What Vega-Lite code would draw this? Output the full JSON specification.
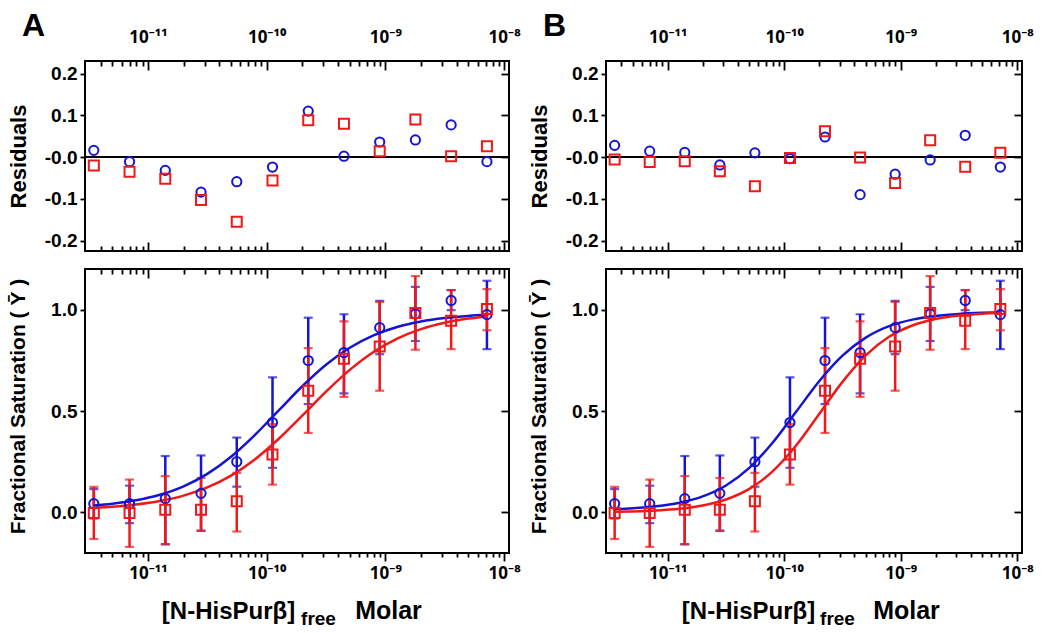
{
  "$schema": "https://vega.github.io/schema/vega-lite/v6.json",
  "background": "white",
  "padding": {"left": 5, "top": 9, "right": 5, "bottom": 3},
  "config": {
    "font": "Liberation Sans",
    "view": {"stroke": "black", "strokeWidth": 2},
    "axis": {"grid": false, "domain": false, "labelFont": "Liberation Sans", "labelFontWeight": "bold", "labelColor": "black", "titleFont": "Liberation Sans", "titleFontWeight": "bold", "titleColor": "black", "tickColor": "black", "tickWidth": 1.8}
  },
  "datasets": {
    "pts": [
      {"x": 3.5e-12, "s": "b", "y": 0.043, "lo": -0.03, "hi": 0.115, "ra": 0.016, "rb": 0.028},
      {"x": 7e-12, "s": "b", "y": 0.043, "lo": -0.053, "hi": 0.132, "ra": -0.011, "rb": 0.014},
      {"x": 1.4e-11, "s": "b", "y": 0.068, "lo": -0.157, "hi": 0.278, "ra": -0.032, "rb": 0.011},
      {"x": 2.8e-11, "s": "b", "y": 0.094, "lo": -0.09, "hi": 0.281, "ra": -0.084, "rb": -0.019},
      {"x": 5.6e-11, "s": "b", "y": 0.25, "lo": 0.127, "hi": 0.369, "ra": -0.059, "rb": 0.01},
      {"x": 1.12e-10, "s": "b", "y": 0.443, "lo": 0.22, "hi": 0.666, "ra": -0.024, "rb": -0.004},
      {"x": 2.24e-10, "s": "b", "y": 0.749, "lo": 0.534, "hi": 0.96, "ra": 0.11, "rb": 0.048},
      {"x": 4.48e-10, "s": "b", "y": 0.788, "lo": 0.587, "hi": 0.977, "ra": 0.002, "rb": -0.09},
      {"x": 8.96e-10, "s": "b", "y": 0.911, "lo": 0.78, "hi": 1.043, "ra": 0.036, "rb": -0.041},
      {"x": 1.79e-9, "s": "b", "y": 0.979, "lo": 0.845, "hi": 1.112, "ra": 0.041, "rb": -0.007},
      {"x": 3.58e-9, "s": "b", "y": 1.045, "lo": 0.997, "hi": 1.096, "ra": 0.077, "rb": 0.052},
      {"x": 7.17e-9, "s": "b", "y": 0.975, "lo": 0.805, "hi": 1.142, "ra": -0.011, "rb": -0.024},
      {"x": 3.5e-12, "s": "r", "y": -0.003, "lo": -0.131, "hi": 0.126, "ra": -0.02, "rb": -0.006},
      {"x": 7e-12, "s": "r", "y": -0.003, "lo": -0.17, "hi": 0.162, "ra": -0.035, "rb": -0.012},
      {"x": 1.4e-11, "s": "r", "y": 0.013, "lo": -0.157, "hi": 0.179, "ra": -0.052, "rb": -0.01},
      {"x": 2.8e-11, "s": "r", "y": 0.013, "lo": -0.091, "hi": 0.17, "ra": -0.103, "rb": -0.034},
      {"x": 5.6e-11, "s": "r", "y": 0.055, "lo": -0.094, "hi": 0.195, "ra": -0.155, "rb": -0.07},
      {"x": 1.12e-10, "s": "r", "y": 0.286, "lo": 0.137, "hi": 0.435, "ra": -0.056, "rb": -0.002},
      {"x": 2.24e-10, "s": "r", "y": 0.6, "lo": 0.392, "hi": 0.81, "ra": 0.088, "rb": 0.062},
      {"x": 4.48e-10, "s": "r", "y": 0.757, "lo": 0.57, "hi": 0.942, "ra": 0.08, "rb": -0.001},
      {"x": 8.96e-10, "s": "r", "y": 0.818, "lo": 0.6, "hi": 1.038, "ra": 0.014, "rb": -0.062},
      {"x": 1.79e-9, "s": "r", "y": 0.983, "lo": 0.802, "hi": 1.165, "ra": 0.09, "rb": 0.04},
      {"x": 3.58e-9, "s": "r", "y": 0.945, "lo": 0.805, "hi": 1.096, "ra": 0.002, "rb": -0.023},
      {"x": 7.17e-9, "s": "r", "y": 1.003, "lo": 0.898, "hi": 1.101, "ra": 0.026, "rb": 0.01}
    ],
    "fit": [
      {"x": 3.5e-12, "s": "b", "a": 0.0336, "b": 0.0165},
      {"x": 5.012e-12, "s": "b", "a": 0.0425, "b": 0.0208},
      {"x": 7.943e-12, "s": "b", "a": 0.0596, "b": 0.0302},
      {"x": 1.259e-11, "s": "b", "a": 0.0869, "b": 0.0475},
      {"x": 1.995e-11, "s": "b", "a": 0.1287, "b": 0.0789},
      {"x": 3.162e-11, "s": "b", "a": 0.1902, "b": 0.1329},
      {"x": 5.012e-11, "s": "b", "a": 0.2748, "b": 0.2195},
      {"x": 7.943e-11, "s": "b", "a": 0.3815, "b": 0.3435},
      {"x": 1.259e-10, "s": "b", "a": 0.5019, "b": 0.4945},
      {"x": 1.995e-10, "s": "b", "a": 0.622, "b": 0.6468},
      {"x": 3.162e-10, "s": "b", "a": 0.7282, "b": 0.773},
      {"x": 5.012e-10, "s": "b", "a": 0.8119, "b": 0.8618},
      {"x": 7.943e-10, "s": "b", "a": 0.8728, "b": 0.9183},
      {"x": 1.259e-9, "s": "b", "a": 0.9142, "b": 0.9504},
      {"x": 1.995e-9, "s": "b", "a": 0.9411, "b": 0.9685},
      {"x": 3.162e-9, "s": "b", "a": 0.958, "b": 0.9786},
      {"x": 5.012e-9, "s": "b", "a": 0.9685, "b": 0.9839},
      {"x": 7.2e-9, "s": "b", "a": 0.974, "b": 0.9863},
      {"x": 3.5e-12, "s": "r", "a": 0.0224, "b": 0.0029},
      {"x": 5.012e-12, "s": "r", "a": 0.028, "b": 0.0048},
      {"x": 7.943e-12, "s": "r", "a": 0.0389, "b": 0.0093},
      {"x": 1.259e-11, "s": "r", "a": 0.0561, "b": 0.0178},
      {"x": 1.995e-11, "s": "r", "a": 0.0828, "b": 0.0339},
      {"x": 3.162e-11, "s": "r", "a": 0.1232, "b": 0.0636},
      {"x": 5.012e-11, "s": "r", "a": 0.1816, "b": 0.1159},
      {"x": 7.943e-11, "s": "r", "a": 0.2614, "b": 0.2022},
      {"x": 1.259e-10, "s": "r", "a": 0.3621, "b": 0.3285},
      {"x": 1.995e-10, "s": "r", "a": 0.4774, "b": 0.4852},
      {"x": 3.162e-10, "s": "r", "a": 0.5953, "b": 0.6437},
      {"x": 5.012e-10, "s": "r", "a": 0.7027, "b": 0.7747},
      {"x": 7.943e-10, "s": "r", "a": 0.7908, "b": 0.8657},
      {"x": 1.259e-9, "s": "r", "a": 0.8571, "b": 0.9216},
      {"x": 1.995e-9, "s": "r", "a": 0.9038, "b": 0.9534},
      {"x": 3.162e-9, "s": "r", "a": 0.935, "b": 0.9707},
      {"x": 5.012e-9, "s": "r", "a": 0.9555, "b": 0.9799},
      {"x": 7.2e-9, "s": "r", "a": 0.9662, "b": 0.984}
    ]
  },
  "spacing": 4,
  "hconcat": [
    {
      "spacing": 14,
      "vconcat": [
        {
          "width": 424, "height": 190,
          "title": {"text": "A", "anchor": "start", "frame": "bounds", "fontSize": 32, "fontWeight": "bold", "font": "Liberation Sans", "color": "black", "dx": 15, "offset": -19},
          "resolve": {"axis": {"x": "independent", "y": "independent"}},
          "layer": [
            {"data": {"values": [{}]}, "mark": {"type": "rule", "color": "black", "strokeWidth": 2},
             "encoding": {"y": {"datum": 0, "type": "quantitative", "scale": {"domain": [-0.225, 0.23], "nice": false, "zero": false}, "axis": null}}},
            {"data": {"name": "pts"}, "transform": [{"filter": "datum.s == 'b'"}],
             "mark": {"type": "point", "shape": "circle", "filled": false, "color": "#1414d2", "strokeWidth": 2, "size": 85, "opacity": 1},
             "encoding": {
               "x": {"field": "x", "type": "quantitative", "scale": {"type": "log", "domain": [2.95e-12, 1.1e-8], "nice": false},
                     "axis": {"orient": "top", "title": null, "values": [4e-12,5e-12,6e-12,7e-12,8e-12,9e-12,1e-11,2e-11,3e-11,4e-11,5e-11,6e-11,7e-11,8e-11,9e-11,1e-10,2e-10,3e-10,4e-10,5e-10,6e-10,7e-10,8e-10,9e-10,1e-9,2e-9,3e-9,4e-9,5e-9,6e-9,7e-9,8e-9,9e-9,1e-8],
                              "labelExpr": "abs(log(datum.value)/LN10 - round(log(datum.value)/LN10)) < 0.01 ? '10' + (round(log(datum.value)/LN10) == -11 ? '⁻¹¹' : round(log(datum.value)/LN10) == -10 ? '⁻¹⁰' : round(log(datum.value)/LN10) == -9 ? '⁻⁹' : '⁻⁸') : ''",
                              "labelFont": "Noto Sans", "labelFontSize": 17, "labelFlush": false, "labelOverlap": false, "labelBound": false, "labelPadding": 24, "labelAngle": 0,
                              "tickSize": {"condition": {"test": "abs(log(datum.value)/LN10 - round(log(datum.value)/LN10)) < 0.01", "value": -9}, "value": -5}}},
               "y": {"field": "ra", "type": "quantitative", "scale": {"domain": [-0.225, 0.23], "nice": false, "zero": false},
                     "axis": {"orient": "left", "values": [-0.2, -0.1, 0, 0.1, 0.2], "labelExpr": "datum.value == 0 ? '-0.0' : replace(format(datum.value, '.1f'), '−', '-')", "labelFontSize": 19, "tickSize": 5, "labelPadding": 3,
                              "title": "Residuals", "titleFontSize": 22, "titleX": -67, "titleY": 95, "titleAngle": -90, "titleAlign": "center", "titleBaseline": "middle"}}
             }},
            {"data": {"name": "pts"}, "transform": [{"filter": "datum.s == 'r'"}],
             "mark": {"type": "point", "shape": "square", "filled": false, "color": "#f01818", "strokeWidth": 2, "size": 100, "opacity": 1},
             "encoding": {
               "x": {"field": "x", "type": "quantitative", "scale": {"type": "log", "domain": [2.95e-12, 1.1e-8], "nice": false},
                     "axis": {"orient": "bottom", "title": null, "labels": false, "values": [4e-12,5e-12,6e-12,7e-12,8e-12,9e-12,1e-11,2e-11,3e-11,4e-11,5e-11,6e-11,7e-11,8e-11,9e-11,1e-10,2e-10,3e-10,4e-10,5e-10,6e-10,7e-10,8e-10,9e-10,1e-9,2e-9,3e-9,4e-9,5e-9,6e-9,7e-9,8e-9,9e-9,1e-8],
                              "tickSize": {"condition": {"test": "abs(log(datum.value)/LN10 - round(log(datum.value)/LN10)) < 0.01", "value": -9}, "value": -5}}},
               "y": {"field": "ra", "type": "quantitative", "scale": {"domain": [-0.225, 0.23], "nice": false, "zero": false},
                     "axis": {"orient": "right", "title": null, "labels": false, "values": [-0.2, -0.1, 0, 0.1, 0.2], "tickSize": -8}}
             }}
          ]
        },
        {
          "width": 424, "height": 284,
          "resolve": {"axis": {"x": "independent", "y": "independent"}},
          "layer": [
            {"data": {"name": "pts"}, "transform": [{"filter": "datum.s == 'b'"}],
             "mark": {"type": "errorbar", "color": "#1414d2", "ticks": {"size": 9, "thickness": 2.2}, "rule": {"strokeWidth": 2.5}},
             "encoding": {
               "x": {"field": "x", "type": "quantitative", "scale": {"type": "log", "domain": [2.95e-12, 1.1e-8], "nice": false}, "axis": null},
               "y": {"field": "lo", "type": "quantitative", "scale": {"domain": [-0.2, 1.2], "nice": false, "zero": false}, "axis": null},
               "y2": {"field": "hi"}
             }},
            {"data": {"name": "pts"}, "transform": [{"filter": "datum.s == 'r'"}],
             "mark": {"type": "errorbar", "color": "#f01818", "ticks": {"size": 9, "thickness": 2.2}, "rule": {"strokeWidth": 2.5}},
             "encoding": {
               "x": {"field": "x", "type": "quantitative", "scale": {"type": "log", "domain": [2.95e-12, 1.1e-8], "nice": false}, "axis": null},
               "y": {"field": "lo", "type": "quantitative", "scale": {"domain": [-0.2, 1.2], "nice": false, "zero": false}, "axis": null},
               "y2": {"field": "hi"}
             }},
            {"data": {"name": "fit"}, "transform": [{"filter": "datum.s == 'b'"}],
             "mark": {"type": "line", "color": "#1414d2", "strokeWidth": 2.5, "interpolate": "monotone"},
             "encoding": {
               "x": {"field": "x", "type": "quantitative", "scale": {"type": "log", "domain": [2.95e-12, 1.1e-8], "nice": false},
                     "axis": {"orient": "bottom", "values": [4e-12,5e-12,6e-12,7e-12,8e-12,9e-12,1e-11,2e-11,3e-11,4e-11,5e-11,6e-11,7e-11,8e-11,9e-11,1e-10,2e-10,3e-10,4e-10,5e-10,6e-10,7e-10,8e-10,9e-10,1e-9,2e-9,3e-9,4e-9,5e-9,6e-9,7e-9,8e-9,9e-9,1e-8],
                              "labelExpr": "abs(log(datum.value)/LN10 - round(log(datum.value)/LN10)) < 0.01 ? '10' + (round(log(datum.value)/LN10) == -11 ? '⁻¹¹' : round(log(datum.value)/LN10) == -10 ? '⁻¹⁰' : round(log(datum.value)/LN10) == -9 ? '⁻⁹' : '⁻⁸') : ''",
                              "labelFont": "Noto Sans", "labelFontSize": 17, "labelFlush": false, "labelOverlap": false, "labelBound": false, "labelPadding": 4, "labelAngle": 0,
                              "tickSize": {"condition": {"test": "abs(log(datum.value)/LN10 - round(log(datum.value)/LN10)) < 0.01", "value": 8}, "value": 4},
                              "title": "[N-HisPurβ]", "titleFontSize": 24, "titleX": 143, "titleY": 65, "titleAlign": "center", "titleBaseline": "alphabetic", "titleAngle": 0}},
               "y": {"field": "a", "type": "quantitative", "scale": {"domain": [-0.2, 1.2], "nice": false, "zero": false},
                     "axis": {"orient": "left", "values": [0, 0.5, 1], "format": ".1f", "labelFontSize": 19, "tickSize": 5, "labelPadding": 3,
                              "title": "Fractional Saturation ( Ȳ )", "titleFontSize": 21, "titleX": -67, "titleY": 137, "titleAngle": -90, "titleAlign": "center", "titleBaseline": "middle"}}
             }},
            {"data": {"name": "fit"}, "transform": [{"filter": "datum.s == 'r'"}],
             "mark": {"type": "line", "color": "#f01818", "strokeWidth": 2.5, "interpolate": "monotone"},
             "encoding": {
               "x": {"field": "x", "type": "quantitative", "scale": {"type": "log", "domain": [2.95e-12, 1.1e-8], "nice": false},
                     "axis": {"orient": "top", "labels": false, "values": [4e-12,5e-12,6e-12,7e-12,8e-12,9e-12,1e-11,2e-11,3e-11,4e-11,5e-11,6e-11,7e-11,8e-11,9e-11,1e-10,2e-10,3e-10,4e-10,5e-10,6e-10,7e-10,8e-10,9e-10,1e-9,2e-9,3e-9,4e-9,5e-9,6e-9,7e-9,8e-9,9e-9,1e-8],
                              "tickSize": {"condition": {"test": "abs(log(datum.value)/LN10 - round(log(datum.value)/LN10)) < 0.01", "value": -9}, "value": -5},
                              "title": "free", "titleFontSize": 19, "titleX": 233, "titleY": 355, "titleAlign": "center", "titleBaseline": "alphabetic", "titleAngle": 0}},
               "y": {"field": "a", "type": "quantitative", "scale": {"domain": [-0.2, 1.2], "nice": false, "zero": false},
                     "axis": {"orient": "right", "labels": false, "values": [0, 0.5, 1], "tickSize": -8,
                              "title": "Molar", "titleFontSize": 25, "titleX": -121, "titleY": 349, "titleAlign": "center", "titleBaseline": "alphabetic", "titleAngle": 0}}
             }},
            {"data": {"name": "pts"}, "transform": [{"filter": "datum.s == 'b'"}],
             "mark": {"type": "point", "shape": "circle", "filled": false, "color": "#1414d2", "strokeWidth": 2, "size": 85, "opacity": 1},
             "encoding": {
               "x": {"field": "x", "type": "quantitative", "scale": {"type": "log", "domain": [2.95e-12, 1.1e-8], "nice": false}, "axis": null},
               "y": {"field": "y", "type": "quantitative", "scale": {"domain": [-0.2, 1.2], "nice": false, "zero": false}, "axis": null}
             }},
            {"data": {"name": "pts"}, "transform": [{"filter": "datum.s == 'r'"}],
             "mark": {"type": "point", "shape": "square", "filled": false, "color": "#f01818", "strokeWidth": 2, "size": 100, "opacity": 1},
             "encoding": {
               "x": {"field": "x", "type": "quantitative", "scale": {"type": "log", "domain": [2.95e-12, 1.1e-8], "nice": false}, "axis": null},
               "y": {"field": "y", "type": "quantitative", "scale": {"domain": [-0.2, 1.2], "nice": false, "zero": false}, "axis": null}
             }}
          ]
        }
      ]
    },
    {
      "spacing": 14,
      "vconcat": [
        {
          "width": 416, "height": 190,
          "title": {"text": "B", "anchor": "start", "frame": "bounds", "fontSize": 32, "fontWeight": "bold", "font": "Liberation Sans", "color": "black", "dx": 15, "offset": -19},
          "resolve": {"axis": {"x": "independent", "y": "independent"}},
          "layer": [
            {"data": {"values": [{}]}, "mark": {"type": "rule", "color": "black", "strokeWidth": 2},
             "encoding": {"y": {"datum": 0, "type": "quantitative", "scale": {"domain": [-0.225, 0.23], "nice": false, "zero": false}, "axis": null}}},
            {"data": {"name": "pts"}, "transform": [{"filter": "datum.s == 'b'"}],
             "mark": {"type": "point", "shape": "circle", "filled": false, "color": "#1414d2", "strokeWidth": 2, "size": 85, "opacity": 1},
             "encoding": {
               "x": {"field": "x", "type": "quantitative", "scale": {"type": "log", "domain": [2.95e-12, 1.1e-8], "nice": false},
                     "axis": {"orient": "top", "title": null, "values": [4e-12,5e-12,6e-12,7e-12,8e-12,9e-12,1e-11,2e-11,3e-11,4e-11,5e-11,6e-11,7e-11,8e-11,9e-11,1e-10,2e-10,3e-10,4e-10,5e-10,6e-10,7e-10,8e-10,9e-10,1e-9,2e-9,3e-9,4e-9,5e-9,6e-9,7e-9,8e-9,9e-9,1e-8],
                              "labelExpr": "abs(log(datum.value)/LN10 - round(log(datum.value)/LN10)) < 0.01 ? '10' + (round(log(datum.value)/LN10) == -11 ? '⁻¹¹' : round(log(datum.value)/LN10) == -10 ? '⁻¹⁰' : round(log(datum.value)/LN10) == -9 ? '⁻⁹' : '⁻⁸') : ''",
                              "labelFont": "Noto Sans", "labelFontSize": 17, "labelFlush": false, "labelOverlap": false, "labelBound": false, "labelPadding": 24, "labelAngle": 0,
                              "tickSize": {"condition": {"test": "abs(log(datum.value)/LN10 - round(log(datum.value)/LN10)) < 0.01", "value": -9}, "value": -5}}},
               "y": {"field": "rb", "type": "quantitative", "scale": {"domain": [-0.225, 0.23], "nice": false, "zero": false},
                     "axis": {"orient": "left", "values": [-0.2, -0.1, 0, 0.1, 0.2], "labelExpr": "datum.value == 0 ? '-0.0' : replace(format(datum.value, '.1f'), '−', '-')", "labelFontSize": 19, "tickSize": 5, "labelPadding": 3,
                              "title": "Residuals", "titleFontSize": 22, "titleX": -67, "titleY": 95, "titleAngle": -90, "titleAlign": "center", "titleBaseline": "middle"}}
             }},
            {"data": {"name": "pts"}, "transform": [{"filter": "datum.s == 'r'"}],
             "mark": {"type": "point", "shape": "square", "filled": false, "color": "#f01818", "strokeWidth": 2, "size": 100, "opacity": 1},
             "encoding": {
               "x": {"field": "x", "type": "quantitative", "scale": {"type": "log", "domain": [2.95e-12, 1.1e-8], "nice": false},
                     "axis": {"orient": "bottom", "title": null, "labels": false, "values": [4e-12,5e-12,6e-12,7e-12,8e-12,9e-12,1e-11,2e-11,3e-11,4e-11,5e-11,6e-11,7e-11,8e-11,9e-11,1e-10,2e-10,3e-10,4e-10,5e-10,6e-10,7e-10,8e-10,9e-10,1e-9,2e-9,3e-9,4e-9,5e-9,6e-9,7e-9,8e-9,9e-9,1e-8],
                              "tickSize": {"condition": {"test": "abs(log(datum.value)/LN10 - round(log(datum.value)/LN10)) < 0.01", "value": -9}, "value": -5}}},
               "y": {"field": "rb", "type": "quantitative", "scale": {"domain": [-0.225, 0.23], "nice": false, "zero": false},
                     "axis": {"orient": "right", "title": null, "labels": false, "values": [-0.2, -0.1, 0, 0.1, 0.2], "tickSize": -8}}
             }}
          ]
        },
        {
          "width": 416, "height": 284,
          "resolve": {"axis": {"x": "independent", "y": "independent"}},
          "layer": [
            {"data": {"name": "pts"}, "transform": [{"filter": "datum.s == 'b'"}],
             "mark": {"type": "errorbar", "color": "#1414d2", "ticks": {"size": 9, "thickness": 2.2}, "rule": {"strokeWidth": 2.5}},
             "encoding": {
               "x": {"field": "x", "type": "quantitative", "scale": {"type": "log", "domain": [2.95e-12, 1.1e-8], "nice": false}, "axis": null},
               "y": {"field": "lo", "type": "quantitative", "scale": {"domain": [-0.2, 1.2], "nice": false, "zero": false}, "axis": null},
               "y2": {"field": "hi"}
             }},
            {"data": {"name": "pts"}, "transform": [{"filter": "datum.s == 'r'"}],
             "mark": {"type": "errorbar", "color": "#f01818", "ticks": {"size": 9, "thickness": 2.2}, "rule": {"strokeWidth": 2.5}},
             "encoding": {
               "x": {"field": "x", "type": "quantitative", "scale": {"type": "log", "domain": [2.95e-12, 1.1e-8], "nice": false}, "axis": null},
               "y": {"field": "lo", "type": "quantitative", "scale": {"domain": [-0.2, 1.2], "nice": false, "zero": false}, "axis": null},
               "y2": {"field": "hi"}
             }},
            {"data": {"name": "fit"}, "transform": [{"filter": "datum.s == 'b'"}],
             "mark": {"type": "line", "color": "#1414d2", "strokeWidth": 2.5, "interpolate": "monotone"},
             "encoding": {
               "x": {"field": "x", "type": "quantitative", "scale": {"type": "log", "domain": [2.95e-12, 1.1e-8], "nice": false},
                     "axis": {"orient": "bottom", "values": [4e-12,5e-12,6e-12,7e-12,8e-12,9e-12,1e-11,2e-11,3e-11,4e-11,5e-11,6e-11,7e-11,8e-11,9e-11,1e-10,2e-10,3e-10,4e-10,5e-10,6e-10,7e-10,8e-10,9e-10,1e-9,2e-9,3e-9,4e-9,5e-9,6e-9,7e-9,8e-9,9e-9,1e-8],
                              "labelExpr": "abs(log(datum.value)/LN10 - round(log(datum.value)/LN10)) < 0.01 ? '10' + (round(log(datum.value)/LN10) == -11 ? '⁻¹¹' : round(log(datum.value)/LN10) == -10 ? '⁻¹⁰' : round(log(datum.value)/LN10) == -9 ? '⁻⁹' : '⁻⁸') : ''",
                              "labelFont": "Noto Sans", "labelFontSize": 17, "labelFlush": false, "labelOverlap": false, "labelBound": false, "labelPadding": 4, "labelAngle": 0,
                              "tickSize": {"condition": {"test": "abs(log(datum.value)/LN10 - round(log(datum.value)/LN10)) < 0.01", "value": 8}, "value": 4},
                              "title": "[N-HisPurβ]", "titleFontSize": 24, "titleX": 142, "titleY": 65, "titleAlign": "center", "titleBaseline": "alphabetic", "titleAngle": 0}},
               "y": {"field": "b", "type": "quantitative", "scale": {"domain": [-0.2, 1.2], "nice": false, "zero": false},
                     "axis": {"orient": "left", "values": [0, 0.5, 1], "format": ".1f", "labelFontSize": 19, "tickSize": 5, "labelPadding": 3,
                              "title": "Fractional Saturation ( Ȳ )", "titleFontSize": 21, "titleX": -67, "titleY": 137, "titleAngle": -90, "titleAlign": "center", "titleBaseline": "middle"}}
             }},
            {"data": {"name": "fit"}, "transform": [{"filter": "datum.s == 'r'"}],
             "mark": {"type": "line", "color": "#f01818", "strokeWidth": 2.5, "interpolate": "monotone"},
             "encoding": {
               "x": {"field": "x", "type": "quantitative", "scale": {"type": "log", "domain": [2.95e-12, 1.1e-8], "nice": false},
                     "axis": {"orient": "top", "labels": false, "values": [4e-12,5e-12,6e-12,7e-12,8e-12,9e-12,1e-11,2e-11,3e-11,4e-11,5e-11,6e-11,7e-11,8e-11,9e-11,1e-10,2e-10,3e-10,4e-10,5e-10,6e-10,7e-10,8e-10,9e-10,1e-9,2e-9,3e-9,4e-9,5e-9,6e-9,7e-9,8e-9,9e-9,1e-8],
                              "tickSize": {"condition": {"test": "abs(log(datum.value)/LN10 - round(log(datum.value)/LN10)) < 0.01", "value": -9}, "value": -5},
                              "title": "free", "titleFontSize": 19, "titleX": 231, "titleY": 355, "titleAlign": "center", "titleBaseline": "alphabetic", "titleAngle": 0}},
               "y": {"field": "b", "type": "quantitative", "scale": {"domain": [-0.2, 1.2], "nice": false, "zero": false},
                     "axis": {"orient": "right", "labels": false, "values": [0, 0.5, 1], "tickSize": -8,
                              "title": "Molar", "titleFontSize": 25, "titleX": -116, "titleY": 349, "titleAlign": "center", "titleBaseline": "alphabetic", "titleAngle": 0}}
             }},
            {"data": {"name": "pts"}, "transform": [{"filter": "datum.s == 'b'"}],
             "mark": {"type": "point", "shape": "circle", "filled": false, "color": "#1414d2", "strokeWidth": 2, "size": 85, "opacity": 1},
             "encoding": {
               "x": {"field": "x", "type": "quantitative", "scale": {"type": "log", "domain": [2.95e-12, 1.1e-8], "nice": false}, "axis": null},
               "y": {"field": "y", "type": "quantitative", "scale": {"domain": [-0.2, 1.2], "nice": false, "zero": false}, "axis": null}
             }},
            {"data": {"name": "pts"}, "transform": [{"filter": "datum.s == 'r'"}],
             "mark": {"type": "point", "shape": "square", "filled": false, "color": "#f01818", "strokeWidth": 2, "size": 100, "opacity": 1},
             "encoding": {
               "x": {"field": "x", "type": "quantitative", "scale": {"type": "log", "domain": [2.95e-12, 1.1e-8], "nice": false}, "axis": null},
               "y": {"field": "y", "type": "quantitative", "scale": {"domain": [-0.2, 1.2], "nice": false, "zero": false}, "axis": null}
             }}
          ]
        }
      ]
    }
  ]
}
